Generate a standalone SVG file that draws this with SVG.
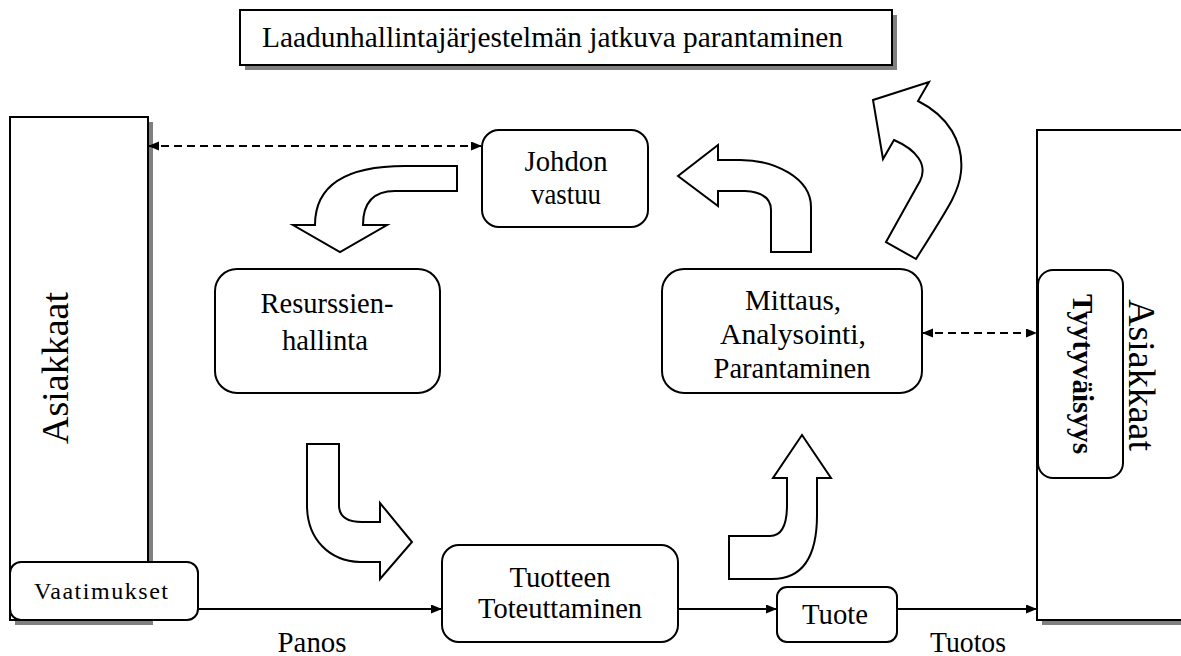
<svg xmlns="http://www.w3.org/2000/svg" width="1181" height="656" viewBox="0 0 1181 656">
  <style>
    .box { fill: #ffffff; stroke: #000000; stroke-width: 2; }
    .shadow { fill: #808080; stroke: none; }
    .blk { fill: #ffffff; stroke: #000000; stroke-width: 2; stroke-linejoin: miter; }
    .lbl { font-family: "Liberation Serif", "Times New Roman", serif; font-size: 30px; fill: #000000; text-anchor: middle; }
    .conn { fill: none; stroke: #000000; stroke-width: 2; }
    .dash { stroke-dasharray: 8 5; }
  </style>
  <defs>
    <marker id="head" markerUnits="userSpaceOnUse" markerWidth="12" markerHeight="10" refX="11" refY="4.5" orient="auto-start-reverse">
      <path d="M0,0 L11,4.5 L0,9 Z" fill="#000000"/>
    </marker>
  </defs>

  <!-- title -->
  <g id="title">
    <rect class="shadow" x="245" y="15" width="652" height="55"/>
    <rect class="box" x="240" y="10" width="652" height="55"/>
    <text class="lbl" x="262" y="47" style="text-anchor:start" textLength="581" lengthAdjust="spacingAndGlyphs">Laadunhallintajärjestelmän jatkuva parantaminen</text>
  </g>

  <!-- customers, input side -->
  <g id="customers-in">
    <rect class="shadow" x="15" y="122" width="138" height="503"/>
    <rect class="box" x="10" y="117" width="138" height="503"/>
    <text class="lbl" transform="translate(68,368) rotate(-90)" style="font-size:38px" textLength="152" lengthAdjust="spacingAndGlyphs">Asiakkaat</text>
  </g>

  <!-- customers, output side -->
  <g id="customers-out">
    <rect class="shadow" x="1042" y="135" width="160" height="490"/>
    <rect class="box" x="1037" y="130" width="160" height="490"/>
    <text class="lbl" transform="translate(1129,375) rotate(90)" style="font-size:38px" textLength="152" lengthAdjust="spacingAndGlyphs">Asiakkaat</text>
  </g>

  <g id="satisfaction">
    <rect class="box" x="1038" y="270" width="85" height="208" rx="15"/>
    <text class="lbl" transform="translate(1073,374) rotate(90)" style="font-weight:bold" textLength="160" lengthAdjust="spacingAndGlyphs">Tyytyväisyys</text>
  </g>

  <g id="requirements">
    <rect class="box" x="10" y="562" width="188" height="58" rx="11"/>
    <text class="lbl" x="101" y="599" style="font-size:24px" textLength="134" lengthAdjust="spacing">Vaatimukset</text>
  </g>

  <g id="management">
    <rect class="box" x="482" y="130" width="166" height="97" rx="17"/>
    <text class="lbl" x="566" y="171" textLength="83" lengthAdjust="spacingAndGlyphs">Johdon</text>
    <text class="lbl" x="566" y="204" textLength="70" lengthAdjust="spacingAndGlyphs">vastuu</text>
  </g>

  <g id="resources">
    <rect class="box" x="215" y="269" width="225" height="124" rx="22"/>
    <text class="lbl" x="327" y="313" textLength="133" lengthAdjust="spacingAndGlyphs">Resurssien-</text>
    <text class="lbl" x="325" y="350" textLength="86" lengthAdjust="spacingAndGlyphs">hallinta</text>
  </g>

  <g id="measurement">
    <rect class="box" x="662" y="269" width="260" height="124" rx="22"/>
    <text class="lbl" x="793" y="310" textLength="96" lengthAdjust="spacingAndGlyphs">Mittaus,</text>
    <text class="lbl" x="793" y="344" textLength="146" lengthAdjust="spacingAndGlyphs">Analysointi,</text>
    <text class="lbl" x="792" y="378" textLength="157" lengthAdjust="spacingAndGlyphs">Parantaminen</text>
  </g>

  <g id="realisation">
    <rect class="box" x="442" y="545" width="236" height="97" rx="17"/>
    <text class="lbl" x="560" y="587" textLength="101" lengthAdjust="spacingAndGlyphs">Tuotteen</text>
    <text class="lbl" x="560" y="618" textLength="164" lengthAdjust="spacingAndGlyphs">Toteuttaminen</text>
  </g>

  <g id="product">
    <rect class="box" x="777" y="587" width="120" height="55" rx="10"/>
    <text class="lbl" x="835" y="624" textLength="66" lengthAdjust="spacingAndGlyphs">Tuote</text>
  </g>

  <!-- connectors and flow arrows -->
  <g id="connectors">
    <line class="conn dash" x1="148" y1="146" x2="482" y2="146" marker-start="url(#head)" marker-end="url(#head)"/>
    <line class="conn dash" x1="922" y1="333" x2="1037" y2="333" marker-start="url(#head)" marker-end="url(#head)"/>
    <line class="conn" x1="198" y1="609" x2="442" y2="609" marker-end="url(#head)"/>
    <line class="conn" x1="678" y1="609" x2="777" y2="609" marker-end="url(#head)"/>
    <line class="conn" x1="897" y1="609" x2="1037" y2="609" marker-end="url(#head)"/>

    <!-- management to resources -->
    <path class="blk" d="M457,166 L405,166 Q315,166 315,225 L293,225 L340,252 L387,225 L363,225 Q363,191 395,191 L457,191 Z"/>
    <!-- resources to realisation -->
    <path class="blk" d="M307,444 L339,444 L339,505 Q339,522 362,522 L380,522 L380,503 L412,542 L380,579 L380,562 L360,562 C330,561 307,540 307,505 Z"/>
    <!-- realisation to measurement -->
    <path class="blk" d="M729,579 L772,579 Q817,579 817,515 L817,478 L831,478 L802,435 L773,478 L787,478 L787,505 Q787,536 770,536 L729,536 Z"/>
    <!-- measurement to management -->
    <path class="blk" d="M771,252 L811,252 L811,207 C811,178 775,160 740,160 L718,160 L718,145 L678,176 L718,206 L718,191 L745,191 C762,192 771,198 771,210 Z"/>
    <!-- measurement to continual improvement -->
    <path class="blk" d="M886,242 L920,181 C928,165 917,150 894,140 L883,159 L873,100 L929,82 L918,101 C948,116 964,142 961,172 C959,192 950,205 916,259 Z"/>

    <text class="lbl" x="312" y="652" textLength="69" lengthAdjust="spacingAndGlyphs">Panos</text>
    <text class="lbl" x="968" y="652" textLength="76" lengthAdjust="spacingAndGlyphs">Tuotos</text>
  </g>
</svg>
